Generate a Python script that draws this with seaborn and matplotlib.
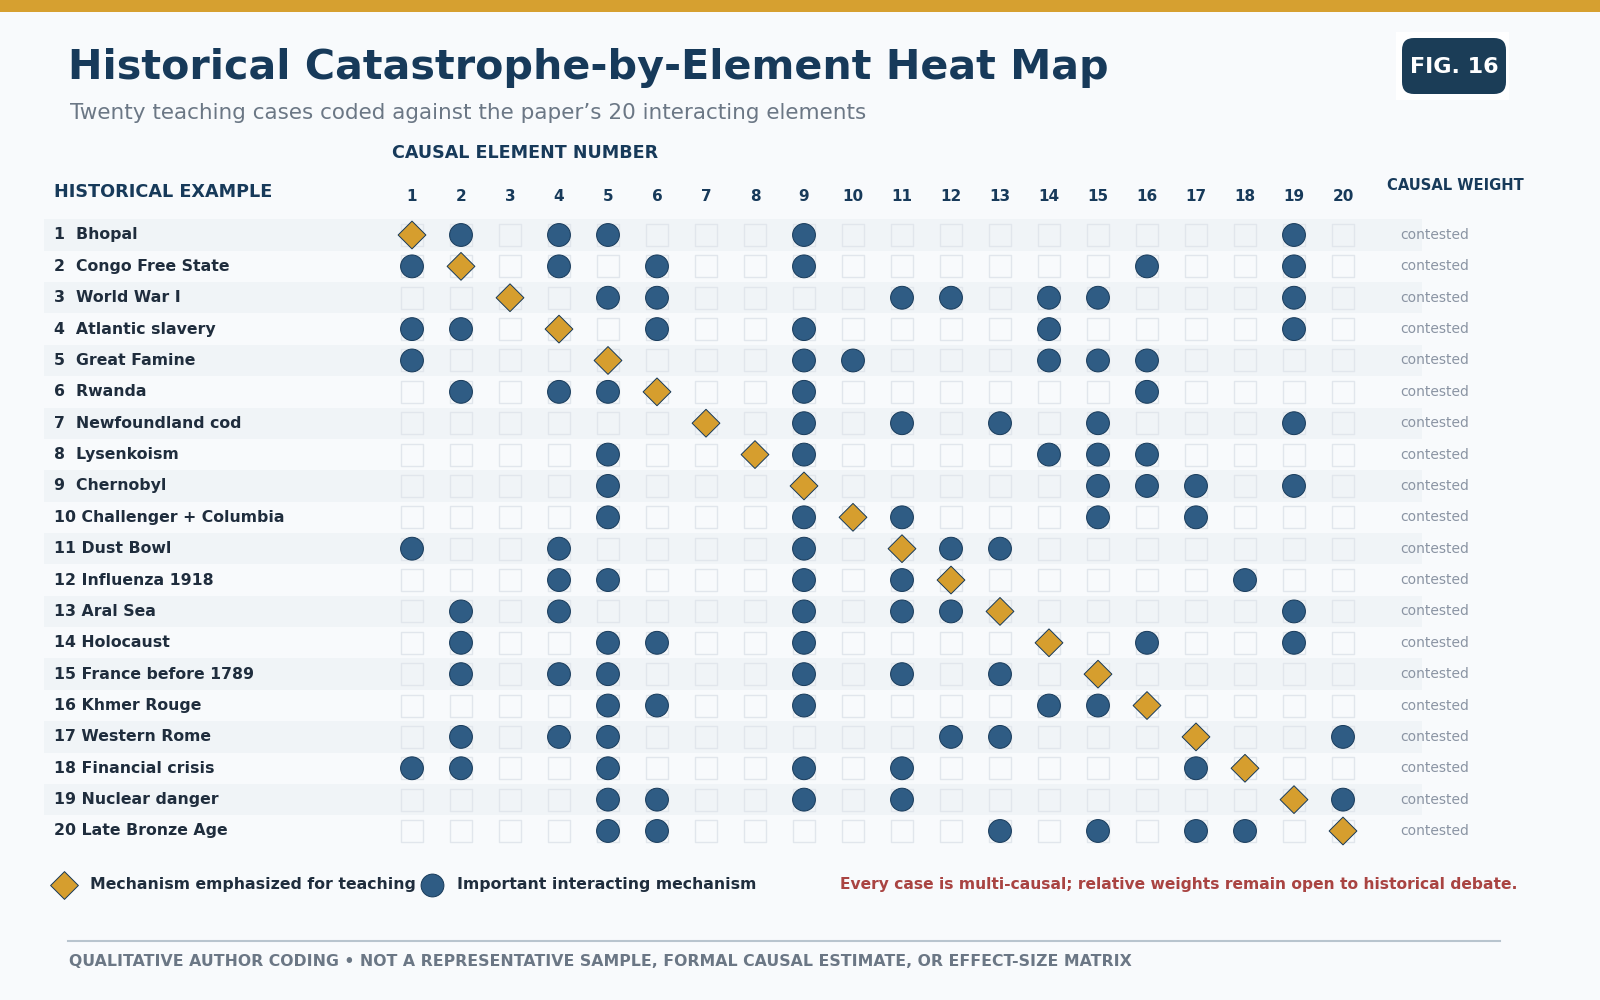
import numpy as np
import pandas as pd
import matplotlib
matplotlib.use("Agg")
import matplotlib.pyplot as plt
import seaborn as sns
from matplotlib.patches import FancyBboxPatch, Rectangle

# ---- data ----
cases = ["Bhopal", "Congo Free State", "World War I", "Atlantic slavery", "Great Famine",
         "Rwanda", "Newfoundland cod", "Lysenkoism", "Chernobyl", "Challenger + Columbia",
         "Dust Bowl", "Influenza 1918", "Aral Sea", "Holocaust", "France before 1789",
         "Khmer Rouge", "Western Rome", "Financial crisis", "Nuclear danger", "Late Bronze Age"]
elements = [1, 2, 3, 4, 5, 6, 7, 8, 9, 10, 11, 12, 13, 14, 15, 16, 17, 18, 19, 20]
# element emphasized for teaching (diamond), one per case
lead_element = [1, 2, 3, 4, 5, 6, 7, 8, 9, 10, 11, 12, 13, 14, 15, 16, 17, 18, 19, 20]
# other important interacting mechanisms (circles)
mechanisms = [
    [2, 4, 5, 9, 19],
    [1, 4, 6, 9, 16, 19],
    [5, 6, 11, 12, 14, 15, 19],
    [1, 2, 6, 9, 14, 19],
    [1, 9, 10, 14, 15, 16],
    [2, 4, 5, 9, 16],
    [9, 11, 13, 15, 19],
    [5, 9, 14, 15, 16],
    [5, 15, 16, 17, 19],
    [5, 9, 11, 15, 17],
    [1, 4, 9, 12, 13],
    [4, 5, 9, 11, 18],
    [2, 4, 9, 11, 12, 19],
    [2, 5, 6, 9, 16, 19],
    [2, 4, 5, 9, 11, 13],
    [5, 6, 9, 14, 15],
    [2, 4, 5, 12, 13, 20],
    [1, 2, 5, 9, 11, 17],
    [5, 6, 9, 11, 20],
    [5, 6, 13, 15, 17, 18],
]
weights = ["contested"] * 20

NAVY = "#173a5a"
BLUE = "#2f5c84"
GOLD = "#d69e2e"
BG = "#f8fafc"
STRIPE = "#f0f4f7"
GRAY = "#6b7785"

rows = []
for i, name in enumerate(cases):
    rows.append({"case": i + 1, "element": lead_element[i], "kind": "lead"})
    for e in mechanisms[i]:
        rows.append({"case": i + 1, "element": e, "kind": "mech"})
marks = pd.DataFrame(rows)
grid = pd.DataFrame([(c, e) for c in range(1, 21) for e in elements], columns=["case", "element"])

W, H = 1600, 1000
fig = plt.figure(figsize=(16, 10), dpi=100, facecolor=BG)


def fx(x):
    return x / W


def fy(y):
    return 1 - y / H


# matrix axes: element 1 -> 412px, element 20 -> 1343px ; case 1 -> 235px, case 20 -> 831px
xstep = (1343 - 412) / 19
ystep = (831 - 235) / 19
x0, x1 = 44, 1422
xl = 1 - (412 - x0) / xstep
xr = 20 + (x1 - 1343) / xstep
ytop = 235 - 0.5 * ystep
ybot = 831 + 0.5 * ystep
ax = fig.add_axes([fx(x0), fy(ybot), fx(x1 - x0), (ybot - ytop) / H])
ax.set_facecolor(BG)
ax.set_xlim(xl, xr)
ax.set_ylim(20.5, 0.5)
for s in ax.spines.values():
    s.set_visible(False)

for c in range(1, 21, 2):
    ax.axhspan(c - 0.5, c + 0.5, color=STRIPE, lw=0, zorder=0)

sns.scatterplot(data=grid, x="element", y="case", marker="s", s=250,
                facecolor="none", edgecolor="#e1e6ec", linewidth=1.0, ax=ax, zorder=2, legend=False)
sns.scatterplot(data=marks, x="element", y="case", hue="kind", style="kind", size="kind",
                palette={"lead": GOLD, "mech": BLUE}, markers={"lead": "D", "mech": "o"},
                sizes={"lead": 200, "mech": 270}, edgecolor=NAVY, linewidth=0.7,
                ax=ax, zorder=3, legend=False)

ax.xaxis.tick_top()
ax.set_xticks(elements)
ax.set_xticklabels([str(e) for e in elements], fontsize=11, fontweight="bold", color=NAVY)
ax.tick_params(axis="x", length=0, pad=11)
ax.set_yticks([])
ax.set_xlabel("")
ax.set_ylabel("")

lab_x = xl + (54 - x0) / xstep
wt_x = 20 + (1435 - 1343) / xstep
for i, name in enumerate(cases):
    ax.text(lab_x, i + 1, f"{i + 1:<2} {name}", ha="left", va="center", fontsize=11.3,
            fontweight="bold", color="#1f2d3d", clip_on=False)
    ax.text(wt_x, i + 1, weights[i], ha="center", va="center", fontsize=10,
            color="#8a94a3", clip_on=False)

# ---- overlay for page decoration ----
ov = fig.add_axes([0, 0, 1, 1], facecolor="none")
ov.set_xlim(0, W)
ov.set_ylim(H, 0)
ov.axis("off")
ov.add_patch(Rectangle((0, 0), W, 12, color="#d6a030", lw=0))
ov.text(68, 68, "Historical Catastrophe-by-Element Heat Map", fontsize=29.7, fontweight="bold",
        color=NAVY, va="center", ha="left")
ov.text(70, 113, "Twenty teaching cases coded against the paper\u2019s 20 interacting elements",
        fontsize=15.5, color=GRAY, va="center", ha="left")
ov.add_patch(Rectangle((1396, 32), 113, 68, color="white", lw=0))
ov.add_patch(FancyBboxPatch((1402, 38), 104, 56, boxstyle="round,pad=0,rounding_size=12",
                            fc="#1b3d57", ec="none"))
ov.text(1454, 67, "FIG. 16", fontsize=16, fontweight="bold", color="white", ha="center", va="center")

ov.text(392, 153, "CAUSAL ELEMENT NUMBER", fontsize=12.6, fontweight="bold", color=NAVY,
        ha="left", va="center")
ov.text(54, 192, "HISTORICAL EXAMPLE", fontsize=12.7, fontweight="bold", color=NAVY,
        ha="left", va="center")
ov.text(1455, 186, "CAUSAL WEIGHT", fontsize=10.6, fontweight="bold", color=NAVY,
        ha="center", va="center")

# legend
ov.scatter([64], [885], marker="D", s=200, c=GOLD, edgecolors=NAVY, linewidths=0.7)
ov.text(90, 885, "Mechanism emphasized for teaching", fontsize=11.3, fontweight="bold",
        color="#1f2d3d", ha="left", va="center")
ov.scatter([432], [885], marker="o", s=270, c=BLUE, edgecolors=NAVY, linewidths=0.7)
ov.text(457, 885, "Important interacting mechanism", fontsize=11.3, fontweight="bold",
        color="#1f2d3d", ha="left", va="center")
ov.text(1518, 885, "Every case is multi-causal; relative weights remain open to historical debate.",
        fontsize=11.2, fontweight="bold", color="#a94442", ha="right", va="center")

ov.plot([68, 1500], [941, 941], color="#b8c4ce", lw=1.5)
ov.text(69, 962, "QUALITATIVE AUTHOR CODING \u2022 NOT A REPRESENTATIVE SAMPLE, FORMAL CAUSAL "
        "ESTIMATE, OR EFFECT-SIZE MATRIX", fontsize=11.35, fontweight="bold", color=GRAY,
        ha="left", va="center")

fig.savefig("out.png", dpi=100, facecolor=BG)
